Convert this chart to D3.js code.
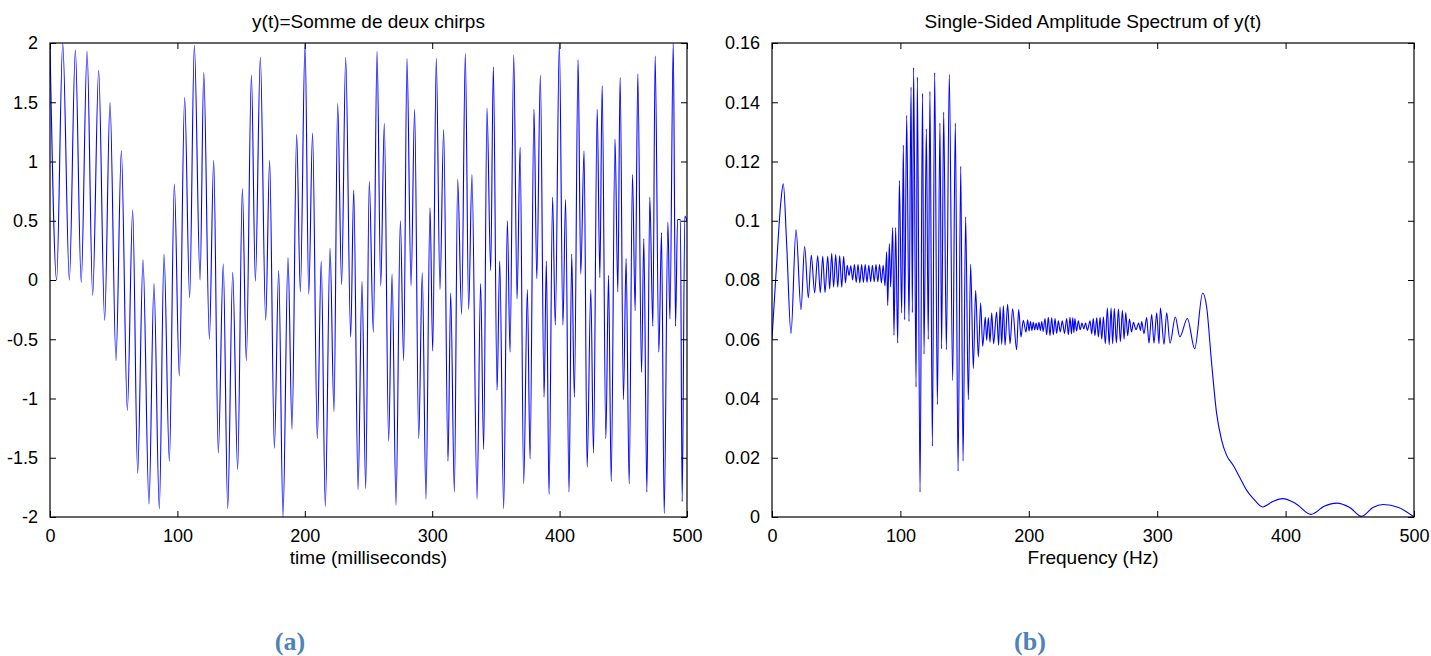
<!DOCTYPE html>
<html><head><meta charset="utf-8">
<script src="https://cdn.jsdelivr.net/npm/d3@7"></script>
<style>body{margin:0;background:#fff}svg{display:block}</style>
</head><body>
<svg id="chart" width="1431" height="656"></svg>
<script>
// ---- Data (local extrema of each trace) ----
const timeMs = [0,5.2,10,15.2,19.9,24.5,29.1,33.5,38.2,42.9,47.1,51.8,56,60.7,64.9,68.8,73,77.7,81.6,85.8,89.5,93.7,97.6,101.5,105.7,109.6,113.3,117.8,120.7,125.1,128.5,132.1,136,139.5,143.4,147.3,151,154.1,158.1,161.2,165.1,169.3,172.4,176.1,179.5,182.9,186.8,190,193.6,196.5,200.2,203.1,206.1,209.8,212.9,216.1,219.8,222.9,225.8,228.9,232.1,236,238.4,241.8,244.9,247.8,250.6,253.8,256.7,259.6,262.4,265.8,268.5,271.6,275,277.6,280.2,283.4,286.2,289.4,292.2,295.1,298.3,300.4,303.2,306.1,309,312.4,314.5,317.4,320,323.1,326,328.6,331.2,335.2,338,340.4,343,345.9,348,350.9,353,356.1,359,361.1,364,366.6,369,371.8,374.7,376.8,379.9,382.1,384.9,387.8,389.6,391.7,394.5,396.6,399.8,402.6,404.7,407.4,409.5,411.6,414.5,416.6,419.2,421.6,424.5,426.6,429.5,431.6,433.4,436.3,438.4,440.5,443.5,445.7,447.5,450.1,452.2,454.6,457.2,459.3,461.4,464.3,466.1,468.5,470.8,473.2,475,477.9,480,482.1,485,486.6,489.2,491,492.6,494.8,496.2,498.3,500];
const signal = [2,0,2,0,1.94,-0.02,1.93,-0.13,1.77,-0.34,1.5,-0.68,1.09,-1.1,0.59,-1.63,0.17,-1.89,-0.03,-1.93,0.22,-1.53,0.81,-0.81,1.54,-0.15,1.98,0,1.75,-0.5,1.01,-1.46,0.135,-1.93,0.065,-1.6,0.77,-0.68,1.73,-0.01,1.88,-0.34,1.01,-1.42,0.08,-2,0.19,-1.26,1.23,-0.1,2,-0.12,1.24,-1.34,0.16,-1.91,0.27,-1.11,1.49,-0.04,1.88,-0.48,0.76,-1.77,-0.01,-1.76,0.83,-0.44,1.93,-0.05,1.32,-1.36,0.05,-1.9,0.5,-0.68,1.87,-0.05,1.44,-1.34,0.06,-1.85,0.61,-0.6,1.87,-0.08,1.27,-1.53,-0.11,-1.79,0.85,-0.29,1.91,-0.25,0.89,-1.85,-0.03,-1.43,1.45,0.08,1.8,-0.93,0.16,-1.93,0.5,-0.61,1.9,-0.16,1.12,-1.72,-0.08,-1.51,1.44,0.01,1.73,-0.99,0.16,-1.81,0.7,-0.38,2,-0.38,0.68,-1.79,0.22,-0.99,1.86,0.05,1.09,-1.58,-0.08,-1.46,1.44,0.02,1.64,-1.34,0.04,-1.7,1.19,-0.1,1.71,-1.01,0.18,-1.72,0.89,-0.26,1.74,-0.78,0.35,-1.79,0.7,-0.39,1.89,-0.61,0.4,-1.97,0.49,-0.33,2,-0.39,0.51,0.51,-1.87,0.54,0.5];

const freqHz = [0,3.6,6.8,8.8,11.4,14.8,18.7,22.6,25.4,28.3,30.6,33.2,35.6,37.6,39.5,41.3,43.4,44.9,46.5,48,49.6,51.2,52.7,54.3,55.8,57.2,58.6,60,61.4,62.8,64.2,65.6,67,68.4,69.8,71.2,72.6,74,75.4,76.8,78.2,79.6,81,82.4,83.8,85.2,86.6,88,89.3,90.1,91.4,92.4,94,95,96.3,97.9,99.2,101,102.3,103.3,104.9,106.7,108.3,109.3,110.3,112.2,113.2,115.3,117.2,118.4,120.2,121.7,123,124.9,126.7,128.8,130.8,132.1,133.7,135.8,138.1,140.7,142.8,144.9,147,148.8,150.8,152.9,154.7,156.8,158.6,160.7,162.5,164.1,166.1,167.2,168.5,169.8,171.1,172.6,174.9,176.5,177.6,178.9,180.2,181.5,183.5,185.4,187.4,190.5,192.1,193.9,195.7,197.8,199.1,200.2,201.3,202.4,203.5,204.6,205.7,206.8,207.9,209,210.1,211.2,212.6,213.9,215.2,216.5,217.8,219.1,220.4,221.7,223,224.5,226.1,227.8,229.5,230.8,232.1,233.2,234.2,235.1,235.9,237.2,238.6,240,241.4,242.8,244.2,245.6,247.7,249,250.2,251.5,252.9,254.2,255.5,256.8,258.1,259.6,261.2,262.6,264.1,265.3,266.6,268.2,269.8,271.3,272.9,274.2,275.5,277,278.4,280,281.5,283.5,285.5,287,287.9,289.7,291.8,293.6,295.7,297.5,299.6,301.4,302.5,305.3,307.4,310,314.1,317.6,323.5,329.2,335.4,338.5,342.4,346.3,350.2,354.1,359.3,364.5,369.7,374.9,382.1,390,397.7,408,419.8,430,439.8,450,459.2,468,476,488,500];
const amplitude = [0.0602,0.0855,0.1059,0.1125,0.0923,0.0619,0.097,0.07,0.0914,0.074,0.0883,0.0757,0.0882,0.0757,0.088,0.0758,0.088,0.077,0.089,0.0776,0.0886,0.0776,0.0882,0.0776,0.088,0.079,0.085,0.0815,0.0848,0.08,0.0852,0.0792,0.0852,0.079,0.0852,0.0792,0.0852,0.0792,0.085,0.0794,0.085,0.0794,0.0852,0.0794,0.0852,0.079,0.085,0.078,0.0895,0.0714,0.0923,0.0776,0.0977,0.0613,0.0977,0.0587,0.1136,0.0689,0.1255,0.0666,0.1356,0.066,0.1451,0.069,0.1517,0.0439,0.1485,0.0084,0.143,0.055,0.131,0.06,0.1437,0.0239,0.15,0.038,0.133,0.0568,0.1367,0.0565,0.1494,0.0461,0.133,0.0155,0.1184,0.0189,0.1013,0.0396,0.0853,0.0501,0.0765,0.054,0.0722,0.0576,0.0675,0.0596,0.0673,0.059,0.0689,0.0585,0.0692,0.058,0.0709,0.0583,0.0713,0.058,0.0718,0.0585,0.0703,0.0565,0.07,0.0608,0.0664,0.0624,0.0666,0.0628,0.066,0.063,0.0657,0.0632,0.0655,0.0632,0.0657,0.063,0.066,0.0626,0.067,0.0615,0.0674,0.0612,0.0672,0.0615,0.067,0.062,0.0662,0.0625,0.0662,0.062,0.067,0.0615,0.0674,0.0618,0.0672,0.0622,0.067,0.0628,0.0662,0.0632,0.0655,0.0635,0.0655,0.063,0.0662,0.0618,0.067,0.0612,0.0672,0.0608,0.0674,0.06,0.0676,0.0585,0.0705,0.0582,0.0705,0.0585,0.0704,0.0588,0.0702,0.0592,0.0698,0.06,0.069,0.0612,0.0668,0.0625,0.0657,0.0632,0.0655,0.063,0.066,0.0619,0.0673,0.0587,0.0684,0.0587,0.0689,0.0585,0.0705,0.0583,0.0689,0.0587,0.0675,0.0608,0.067,0.0568,0.0756,0.0709,0.0518,0.0349,0.0259,0.0208,0.0174,0.0132,0.009,0.0062,0.0034,0.0052,0.0062,0.0045,0.0009,0.0036,0.0047,0.0032,0.0002,0.0032,0.0042,0.0032,0];

const timeTicks = [0,100,200,300,400,500];
const signalTicks = [-2,-1.5,-1,-0.5,0,0.5,1,1.5,2];
const freqTicks = [0,100,200,300,400,500];
const ampTicks = [0,0.02,0.04,0.06,0.08,0.1,0.12,0.14,0.16];
const panelTitles = ["y(t)=Somme de deux chirps","Single-Sided Amplitude Spectrum of y(t)"];
const axisLabels = ["time (milliseconds)","Frequency (Hz)"];
const panelTags = ["(a)","(b)"];

// ---- Drawing ----
const svg = d3.select("#chart");
const FONT = "'Liberation Sans', Arial, Helvetica, sans-serif";
const TICKFS = 18, LABFS = 19;

function panel(id, box, xDom, yDom, xT, yT, yFmt, xs, ys, title, xlabel, tag) {
  const x = d3.scaleLinear().domain(xDom).range([box.x0, box.x1]);
  const y = d3.scaleLinear().domain(yDom).range([box.y1, box.y0]);
  const g = svg.append("g");
  g.append("clipPath").attr("id", "clip" + id).append("rect")
    .attr("x", box.x0).attr("y", box.y0).attr("width", box.x1 - box.x0).attr("height", box.y1 - box.y0);

  const line = d3.line().x((d, i) => x(xs[i])).y((d, i) => y(ys[i])).curve(d3.curveMonotoneX);
  g.append("path").attr("d", line(xs)).attr("fill", "none").attr("stroke", "#0000ff")
    .attr("stroke-width", 1.1).attr("clip-path", `url(#clip${id})`);

  const styleAxis = sel => {
    sel.select(".domain").remove();
    sel.selectAll("line").attr("stroke", "#000").attr("stroke-width", 1);
    sel.selectAll("text").attr("font-family", FONT).attr("font-size", TICKFS).attr("fill", "#000");
  };
  g.append("g").attr("transform", `translate(0,${box.y1})`)
    .call(d3.axisBottom(x).tickValues(xT).tickSize(-6).tickPadding(12).tickFormat(d3.format("d"))).call(styleAxis);
  g.append("g").attr("transform", `translate(0,${box.y0})`)
    .call(d3.axisTop(x).tickValues(xT).tickSize(-6).tickFormat("")).call(styleAxis);
  g.append("g").attr("transform", `translate(${box.x0},0)`)
    .call(d3.axisLeft(y).tickValues(yT).tickSize(-6).tickPadding(12).tickFormat(yFmt)).call(styleAxis);
  g.append("g").attr("transform", `translate(${box.x1},0)`)
    .call(d3.axisRight(y).tickValues(yT).tickSize(-6).tickFormat("")).call(styleAxis);

  g.append("rect").attr("x", box.x0).attr("y", box.y0).attr("width", box.x1 - box.x0)
    .attr("height", box.y1 - box.y0).attr("fill", "none").attr("stroke", "#000").attr("stroke-width", 1.2);

  const cx = (box.x0 + box.x1) / 2;
  g.append("text").attr("x", cx).attr("y", 28).attr("text-anchor", "middle")
    .attr("font-family", FONT).attr("font-size", LABFS).text(title);
  g.append("text").attr("x", cx).attr("y", 564).attr("text-anchor", "middle")
    .attr("font-family", FONT).attr("font-size", LABFS).text(xlabel);
  g.append("text").attr("x", tag.x).attr("y", 650).attr("text-anchor", "middle")
    .attr("font-family", "'Liberation Serif','Times New Roman',serif").attr("font-weight", "bold")
    .attr("font-size", 26).attr("fill", "#4f81bd").text(tag.t);
}

const sigFmt = d => String(d);
const ampFmt = d => d === 0 ? "0" : String(+d.toFixed(2));

panel("a", {x0: 50, x1: 687, y0: 43, y1: 517}, [0, 500], [-2, 2], timeTicks, signalTicks, sigFmt,
  timeMs, signal, panelTitles[0], axisLabels[0], {x: 290, t: panelTags[0]});
panel("b", {x0: 772, x1: 1414, y0: 43, y1: 517}, [0, 500], [0, 0.16], freqTicks, ampTicks, ampFmt,
  freqHz, amplitude, panelTitles[1], axisLabels[1], {x: 1030, t: panelTags[1]});
</script>
</body></html>
